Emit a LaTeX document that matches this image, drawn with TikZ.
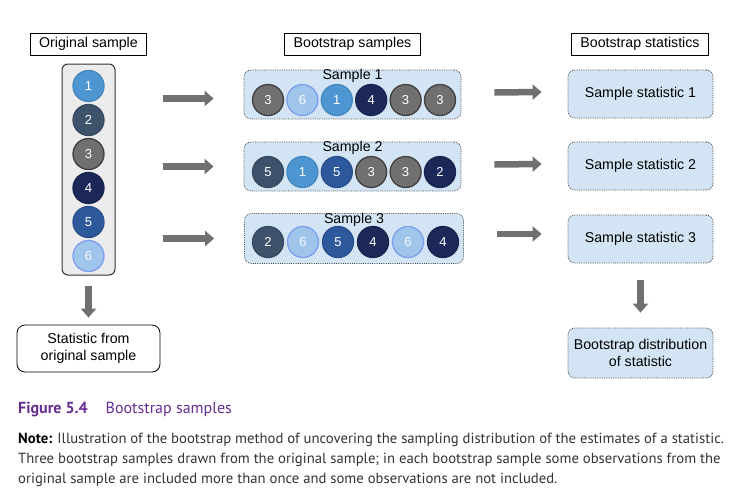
\documentclass[tikz,border=0pt]{standalone}
\usepackage{fontspec}
\setmainfont{Liberation Sans}
\newfontfamily\capfont{PT Sans}
\usepackage{xcolor}
\usetikzlibrary{arrows.meta,positioning}
\definecolor{ballOne}{RGB}{77,150,210}
\definecolor{ballTwo}{RGB}{62,82,108}
\definecolor{ballThree}{RGB}{112,112,112}
\definecolor{ballFour}{RGB}{28,40,88}
\definecolor{ballFive}{RGB}{46,88,156}
\definecolor{ballSix}{RGB}{160,197,235}
\definecolor{bootBlue}{RGB}{211,229,244}
\definecolor{colGray}{RGB}{236,236,236}
\definecolor{arrGray}{RGB}{112,112,112}
\definecolor{figPurple}{RGB}{102,45,145}
\definecolor{noteGray}{RGB}{51,51,51}

\tikzset{
  headbox/.style={draw=black, fill=white, line width=0.8pt, minimum height=22pt,
    inner xsep=9pt, font=\fontsize{14.2}{16}\selectfont},
  bootbox/.style={draw=black!70, fill=bootBlue, densely dotted, line width=0.8pt,
    rounded corners=7pt, font=\fontsize{14.2}{16.5}\selectfont, align=center},
  ball/.style={circle, minimum size=31pt, inner sep=0pt, text=white, line width=1.3pt,
    font=\fontsize{13}{14}\selectfont},
  ball1/.style={ball, fill=ballOne, draw=ballOne!90!black},
  ball2/.style={ball, fill=ballTwo, draw=ballTwo!90!black},
  ball3/.style={ball, fill=ballThree, draw=black!75},
  ball4/.style={ball, fill=ballFour, draw=ballFour!90!black},
  ball5/.style={ball, fill=ballFive, draw=ballFive!90!black},
  ball6/.style={ball, fill=ballSix, draw=ballSix!80!blue, text=white!92!ballSix},
  blockarrow/.style={draw=arrGray, line width=6.5pt, -{Triangle[length=9pt,width=15pt]}},
}

\begin{document}
\begin{tikzpicture}[x=1pt,y=-1pt]
    \useasboundingbox (0,0) rectangle (742,499);

    % headings
    \node[headbox] (hOrig) at (88.5,44) {Original sample};
    \node[headbox] (hBoot) at (352.5,44) {Bootstrap samples};
    \node[headbox] (hStat) at (640,44) {Bootstrap statistics};

    % original sample
    \node[draw=black!80, fill=colGray, line width=1pt, rounded corners=6pt,
        minimum width=53pt, minimum height=211pt] (orig) at (88.5,169.5) {};
    \foreach \v in {1,...,6}
        \node[ball\v] (o\v) at (88.5,{86+34*(\v-1)}) {\v};
    \node[draw=black, fill=white, line width=0.8pt, rounded corners=8pt,
        minimum width=143pt, minimum height=47pt, align=center,
        font=\fontsize{14.2}{16.5}\selectfont] (statOrig) at (88.5,348.5)
        {Statistic from\\original sample};

    % bootstrap samples
    \node[bootbox, minimum width=217pt, minimum height=49pt] (s1) at (352.5,94.5) {};
    \node[bootbox, minimum width=217pt, minimum height=49pt] (s2) at (352.5,166.5) {};
    \node[bootbox, minimum width=219pt, minimum height=50pt] (s3) at (354,238.5) {};
    \node[font=\fontsize{14.2}{16}\selectfont] (l1) at (352.5,76) {Sample 1};
    \node[font=\fontsize{14.2}{16}\selectfont] (l2) at (352.5,148) {Sample 2};
    \node[font=\fontsize{14.2}{16}\selectfont] (l3) at (354,220) {Sample 3};
    \foreach \s/\v [count=\i] in {3/3,6/6,1/1,4/4,3/3,3/3}
        \node[ball\s] (a\i) at ({268+34.4*(\i-1)},100) {\v};
    \foreach \s/\v [count=\i] in {2/5,1/1,5/5,3/3,3/3,4/2}
        \node[ball\s] (b\i) at ({268+34.4*(\i-1)},172) {\v};
    \foreach \s/\v [count=\i] in {2/2,6/6,5/5,4/4,6/6,4/4}
        \node[ball\s] (c\i) at ({268+35*(\i-1)},242) {\v};

    % bootstrap statistics
    \node[bootbox, minimum width=145pt, minimum height=48pt] (st1) at (640.5,94) {Sample statistic 1};
    \node[bootbox, minimum width=145pt, minimum height=48pt] (st2) at (640.5,166) {Sample statistic 2};
    \node[bootbox, minimum width=145pt, minimum height=48pt] (st3) at (640.5,239) {Sample statistic 3};
    \node[bootbox, minimum width=145pt, minimum height=50pt] (dist) at (640.5,353)
        {Bootstrap distribution\\of statistic};

    % arrows
    \draw[blockarrow] ([xshift=47pt,yshift=-4pt]orig.east |- s1.west) -- ([xshift=-30pt,yshift=-4pt]s1.west);
    \draw[blockarrow] ([xshift=47pt]orig.east |- s2.west) -- ([xshift=-30pt]s2.west);
    \draw[blockarrow] ([xshift=47pt]orig.east |- s3.west) -- ([xshift=-30pt]s3.west);
    \draw[blockarrow] ([xshift=33pt,yshift=2pt]s1.east) -- ([xshift=-26pt,yshift=2pt]st1.west);
    \draw[blockarrow] ([xshift=33pt,yshift=2pt]s2.east) -- ([xshift=-26pt,yshift=2pt]st2.west);
    \draw[blockarrow] ([xshift=33pt,yshift=5pt]s3.east |- st3.west) -- ([xshift=-26pt,yshift=5pt]st3.west);
    \draw[blockarrow] ([yshift=-10pt]orig.south) -- ([yshift=7pt]statOrig.north);
    \draw[blockarrow] ([yshift=-17pt]st3.south) -- ([yshift=15pt]dist.north);

    % caption
    \node[anchor=base west, inner sep=0pt, text=figPurple,
        font=\capfont\fontsize{16}{18}\selectfont] (fig) at (18,413)
        {\textbf{Figure 5.4}\hspace{18pt}Bootstrap samples};
    \node[anchor=base west, inner sep=0pt, align=left, text=noteGray,
        font=\capfont\fontsize{14.7}{20}\selectfont] (note) at (18,483)
        {\textbf{\color{black}Note:} Illustration of the bootstrap method of uncovering the sampling distribution of the estimates of a statistic.\\
         Three bootstrap samples drawn from the original sample; in each bootstrap sample some observations from the\\
         original sample are included more than once and some observations are not included.};
\end{tikzpicture}
\end{document}
